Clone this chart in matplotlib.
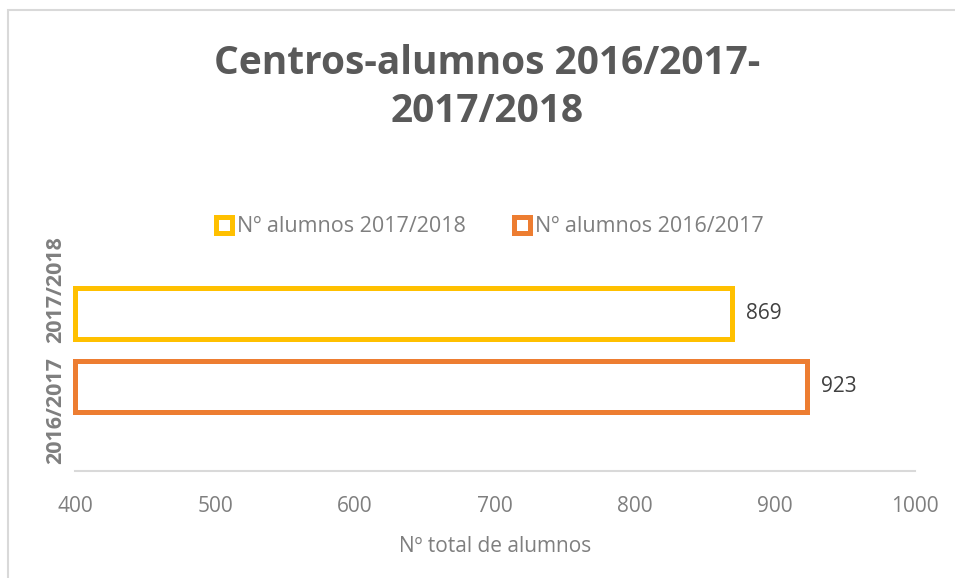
import numpy as np
import matplotlib.pyplot as plt
from matplotlib.patches import Rectangle

# Datos del gráfico
categorias = ['2016/2017', '2017/2018']
serie_2017_2018 = [np.nan, 869]
serie_2016_2017 = [923, np.nan]
nombres_series = ['Nº alumnos 2017/2018', 'Nº alumnos 2016/2017']
colores = ['#FFC000', '#ED7D31']
x_ticks = [400, 500, 600, 700, 800, 900, 1000]

plt.rcParams['font.family'] = ['Open Sans', 'DejaVu Sans']

fig = plt.figure(figsize=(9.55, 5.78), dpi=100)
ax = fig.add_axes([75 / 955, 1 - 471 / 578, 840 / 955, 242 / 578])

# Borde del gráfico (estilo Excel)
fig.patches.append(Rectangle((8 / 955, -0.1), 1.2, 1 - 10 / 578 + 0.1,
                             transform=fig.transFigure, fill=False,
                             edgecolor='#d9d9d9', linewidth=1.5))

x_min = 400
y = np.arange(len(categorias))
alto = 0.42
desplaz = 0.2

for valores, dy, color, nombre in zip([serie_2017_2018, serie_2016_2017], [-desplaz, desplaz],
                                      colores, nombres_series):
    v = np.array(valores, dtype=float)
    ax.barh(y + dy, v - x_min, left=x_min, height=alto, facecolor='white',
            edgecolor=color, linewidth=3.6, label=nombre, clip_on=False)
    for yi, vi in zip(y + dy, v):
        if not np.isnan(vi):
            ax.text(vi + 10, yi, f'{vi:.0f}', va='center', ha='left',
                    fontsize=15, color='#404040')

ax.set_xlim(400, 1000)
ax.set_ylim(-0.5, 1.5)
ax.set_xticks(x_ticks)
ax.set_yticks(y)
ax.set_yticklabels(categorias, rotation=90, va='center', fontweight='bold',
                   fontsize=15.5, color='#7f7f7f')
ax.tick_params(axis='x', length=0, labelsize=15, labelcolor='#7f7f7f', pad=18)
ax.tick_params(axis='y', length=0, pad=6)

for s in ['top', 'right', 'left']:
    ax.spines[s].set_visible(False)
ax.spines['bottom'].set_color('#d9d9d9')
ax.spines['bottom'].set_linewidth(1.5)

ax.set_xlabel('Nº total de alumnos', fontsize=15, color='#7f7f7f', labelpad=14)

fig.text(0.51, 1 - 63 / 578, 'Centros-alumnos 2016/2017-', ha='center', va='center',
         fontsize=28, fontweight='bold', color='#595959')
fig.text(0.51, 1 - 112 / 578, '2017/2018', ha='center', va='center',
         fontsize=28, fontweight='bold', color='#595959')

fig.legend(loc='center', bbox_to_anchor=(0.513, 1 - 227 / 578), ncol=2, frameon=False,
           fontsize=15.5, labelcolor='#7f7f7f', handlelength=0.75, handleheight=0.75,
           handletextpad=0.25, columnspacing=2.2)

fig.savefig('out.png', dpi=100)
